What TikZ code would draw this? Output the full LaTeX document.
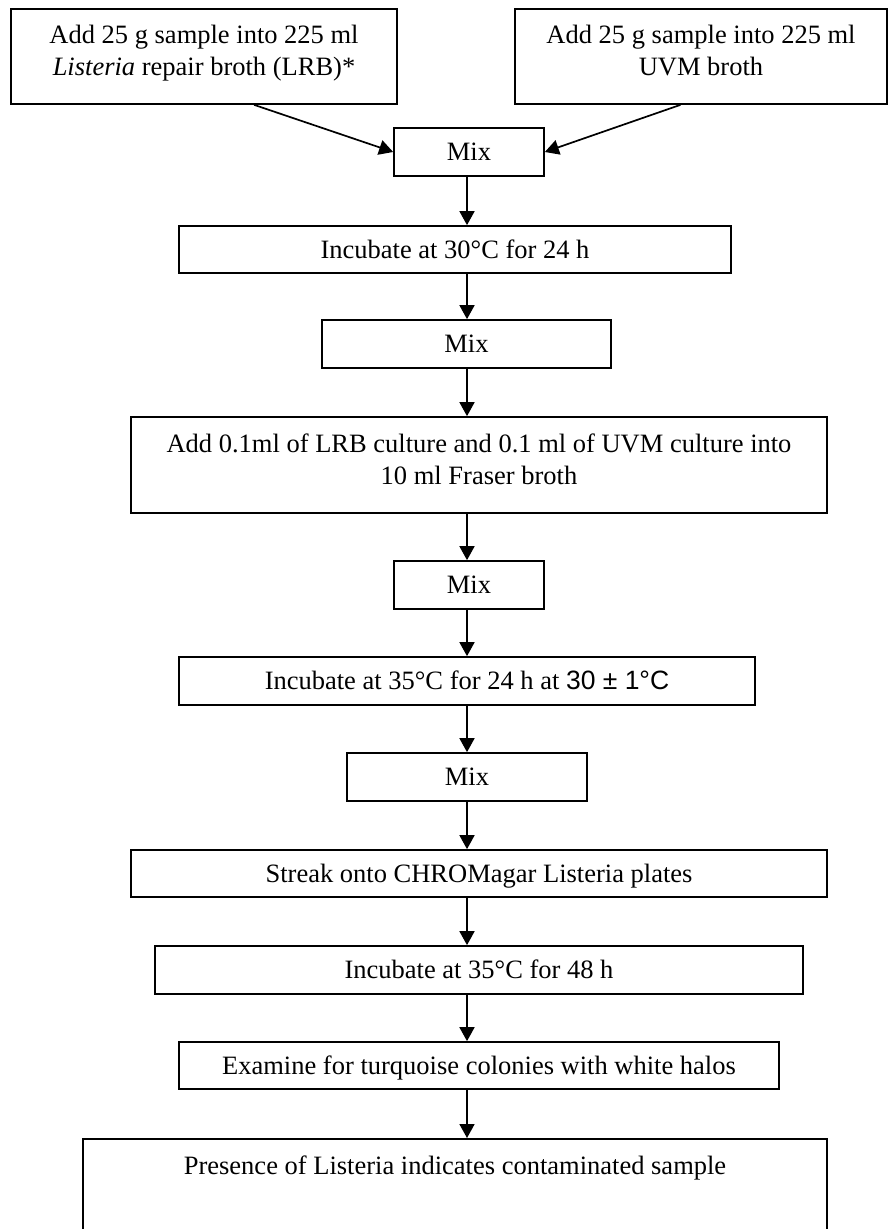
\documentclass[tikz,border=0pt]{standalone}
\usepackage{fontspec}
\setmainfont{Liberation Serif}
\newfontfamily\arialfont{Liberation Sans}
\usetikzlibrary{arrows.meta}
\tikzset{>={Triangle[length=7pt,width=7.5pt]}}
\tikzset{box/.style={draw, line width=0.85pt, inner sep=0pt, align=center, font=\fontsize{13.25}{16}\selectfont},
  onebox/.style={box, text height=10.8pt, text depth=2pt},
  twobox/.style={box, text height=25pt, text depth=5.75pt},
  arr/.style={->, line width=0.85pt}}

\begin{document}
\begin{tikzpicture}[x=0.5pt,y=-0.5pt]
        \useasboundingbox (0,0) rectangle (890,1229);
        \clip (0,0) rectangle (890,1229);
        \coordinate (col) at (467,0);
        \node[twobox, minimum width=193pt, minimum height=47.5pt] (lrb) at (204,56.5) {Add 25 g sample into 225 ml\\\textit{Listeria} repair broth (LRB)*};
        \node[twobox, minimum width=186pt, minimum height=47.5pt] (uvm) at (701,56.5) {Add 25 g sample into 225 ml\\UVM broth};
        \node[onebox, minimum width=75pt, minimum height=24pt] (mixa) at (469,152) {Mix};
        \node[onebox, minimum width=276pt, minimum height=23.5pt] (inca) at (455,249.5) {Incubate at 30°C for 24 h};
        \node[onebox, minimum width=144.5pt, minimum height=24pt] (mixb) at (466.5,344) {Mix};
        \node[twobox, minimum width=348pt, minimum height=48pt] (addb) at (479,465) {Add 0.1ml of LRB culture and 0.1 ml of UVM culture into\\10 ml Fraser broth};
        \node[onebox, minimum width=75pt, minimum height=24pt] (mixc) at (469,585) {Mix};
        \node[onebox, minimum width=288pt, minimum height=24pt] (incb) at (467,681) {Incubate at 35°C for 24 h at {\arialfont 30 ± 1°C}};
        \node[onebox, minimum width=120pt, minimum height=24pt] (mixd) at (467,777) {Mix};
        \node[onebox, minimum width=348pt, minimum height=23.5pt] (streak) at (479,873.5) {Streak onto CHROMagar Listeria plates};
        \node[onebox, minimum width=324pt, minimum height=24pt] (incc) at (479,970) {Incubate at 35°C for 48 h};
        \node[onebox, minimum width=300pt, minimum height=23.5pt] (exam) at (479,1065.5) {Examine for turquoise colonies with white halos};
        \node[box, anchor=north, minimum width=372pt, inner ysep=7.1pt, text height=10.8pt, text depth=100pt] (pres) at (455,1138) {Presence of Listeria indicates contaminated sample};
        \draw[arr] (lrb.-44) -- (mixa.west);
        \draw[arr] (uvm.-113) -- (mixa.east);
        \draw[arr] (mixa.south -| col) -- (inca.north -| col);
        \draw[arr] (inca.south -| col) -- (mixb.north -| col);
        \draw[arr] (mixb.south -| col) -- (addb.north -| col);
        \draw[arr] (addb.south -| col) -- (mixc.north -| col);
        \draw[arr] (mixc.south -| col) -- (incb.north -| col);
        \draw[arr] (incb.south -| col) -- (mixd.north -| col);
        \draw[arr] (mixd.south -| col) -- (streak.north -| col);
        \draw[arr] (streak.south -| col) -- (incc.north -| col);
        \draw[arr] (incc.south -| col) -- (exam.north -| col);
        \draw[arr] (exam.south -| col) -- (pres.north -| col);
\end{tikzpicture}
\end{document}
